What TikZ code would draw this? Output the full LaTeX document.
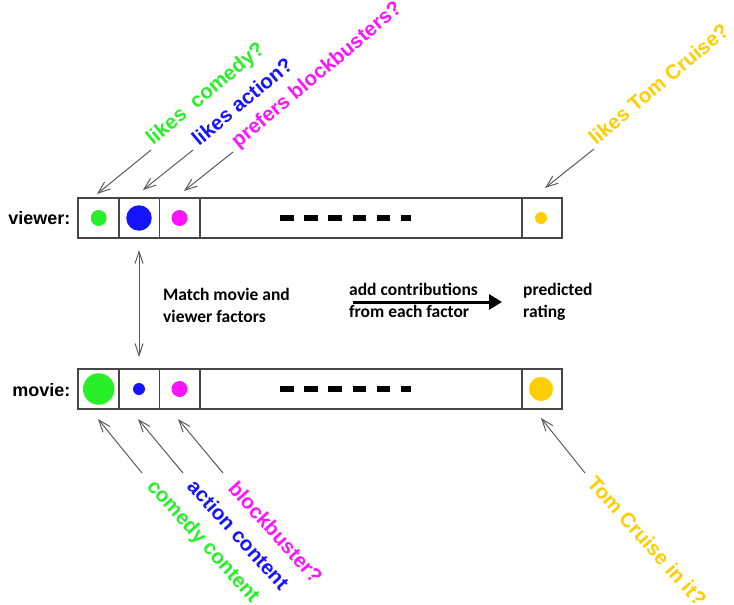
\documentclass[tikz,border=0pt]{standalone}
\usepackage{fontspec}
\usetikzlibrary{arrows.meta}
\newfontfamily\labfont{Liberation Sans}[BoldFont={Liberation Sans Bold}]
\newfontfamily\calfont{Carlito}[BoldFont={Carlito Bold}]
\definecolor{cgreen}{RGB}{40,240,40}
\definecolor{cblue}{RGB}{20,20,255}
\definecolor{cmag}{RGB}{255,20,255}
\definecolor{cgold}{RGB}{255,206,0}
\definecolor{cline}{RGB}{70,70,70}
\definecolor{cptr}{RGB}{90,90,90}
\tikzset{
  cell/.style={draw=cline, line width=1.2pt, minimum height=40, inner sep=0, rectangle},
  dot/.style={circle, inner sep=0, draw=none},
  lab/.style={inner sep=0, anchor=base west, font=\labfont\bfseries\fontsize{20.5}{24}\selectfont},
  blk/.style={inner sep=0, font=\calfont\bfseries\fontsize{17.5}{21}\selectfont},
  rowlab/.style={inner sep=0, anchor=base east, font=\labfont\bfseries\fontsize{18}{21}\selectfont},
  ptr/.style={draw=cptr, line width=1pt, -{Straight Barb[length=12pt,width=9pt]}},
  dptr/.style={draw=cptr, line width=1pt, {Straight Barb[length=12pt,width=8pt]}-{Straight Barb[length=12pt,width=8pt]}},
  dashrow/.style={line width=6pt, dash pattern=on 13.5pt off 10.7pt}
}
\begin{document}
\begin{tikzpicture}[x=1pt,y=-1pt]
\useasboundingbox (0,0) rectangle (734,605);
% viewer row
\node[cell, minimum width=41] (v1) at (98.5,218) {};
\node[cell, minimum width=40.5] (v2) at (139.25,218) {};
\node[cell, minimum width=40.5] (v3) at (179.75,218) {};
\node[cell, minimum width=322] (vm) at (361,218) {};
\node[cell, minimum width=40] (v4) at (542,218) {};
% movie row
\node[cell, minimum width=41] (m1) at (98.5,389) {};
\node[cell, minimum width=40.5] (m2) at (139.25,389) {};
\node[cell, minimum width=40.5] (m3) at (179.75,389) {};
\node[cell, minimum width=322] (mm) at (361,389) {};
\node[cell, minimum width=40] (m4) at (542,389) {};
% dots
\node[dot, fill=cgreen, minimum size=16] (dv1) at (98.7,218) {};
\node[dot, fill=cblue, minimum size=25.5] (dv2) at (139,218) {};
\node[dot, fill=cmag, minimum size=16] (dv3) at (179.5,218) {};
\node[dot, fill=cgold, minimum size=12] (dv4) at (541,218) {};
\node[dot, fill=cgreen, minimum size=31.5] (dm1) at (98.7,389) {};
\node[dot, fill=cblue, minimum size=12] (dm2) at (139,389) {};
\node[dot, fill=cmag, minimum size=16] (dm3) at (179.5,389) {};
\node[dot, fill=cgold, minimum size=24] (dm4) at (541,389) {};
% dashes
\draw[dashrow] (280,218) -- (411,218);
\draw[dashrow] (280,389) -- (411,389);
% row labels
\node[rowlab] (vl) at (70.5,224.5) {viewer:};
\node[rowlab] (ml) at (70.5,396) {movie:};
% middle texts
\node[blk, anchor=base west] (t1a) at (163,300) {Match movie and};
\node[blk, anchor=base west] (t1b) at (163,322.5) {viewer factors};
\node[blk, anchor=base west] (t2a) at (349,295) {add contributions};
\node[blk, anchor=base west] (t2b) at (349,317.5) {from each factor};
\node[blk, anchor=base west] (t3a) at (523,295) {predicted};
\node[blk, anchor=base west] (t3b) at (523,317.5) {rating};
\coordinate (sa) at (353,302);
\coordinate (sb) at (502,302);
\draw[line width=3pt, -{Triangle[length=13pt,width=15pt]}] (sa) -- (sb);
% double arrow
\coordinate (da) at (139,250);
\coordinate (db) at (139,357);
\draw[dptr] (da) -- (db);
% top labels
\node[lab, rotate=40, text=cgreen] (l1) at (153,146) {likes\hspace{0.55em}comedy?};
\node[lab, rotate=40, text=cblue] (l2) at (199,147) {likes action?};
\node[lab, rotate=40, text=cmag] (l3) at (238,149) {prefers blockbusters?};
\node[lab, rotate=40, text=cgold] (l4) at (596,146) {likes Tom Cruise?};
\coordinate (a1) at (151,150); \coordinate (h1) at (97,194);
\coordinate (a2) at (193,150); \coordinate (h2) at (143,190);
\coordinate (a3) at (233,152); \coordinate (h3) at (184,191);
\coordinate (a4) at (594,149); \coordinate (h4) at (545,188);
\draw[ptr] (a1) -- (h1);
\draw[ptr] (a2) -- (h2);
\draw[ptr] (a3) -- (h3);
\draw[ptr] (a4) -- (h4);
% bottom labels
\node[lab, rotate=-48, text=cgreen] (b1) at (146,487) {comedy content};
\node[lab, rotate=-48, text=cblue] (b2) at (186,487) {action content};
\node[lab, rotate=-48, text=cmag] (b3) at (227,489) {blockbuster?};
\node[lab, rotate=-48, text=cgold] (b4) at (586,484) {Tom Cruise in it?};
\coordinate (c1) at (142,473); \coordinate (k1) at (98,419);
\coordinate (c2) at (183,473); \coordinate (k2) at (138,419);
\coordinate (c3) at (223,473); \coordinate (k3) at (178,419);
\coordinate (c4) at (585,473); \coordinate (k4) at (541,418);
\draw[ptr] (c1) -- (k1);
\draw[ptr] (c2) -- (k2);
\draw[ptr] (c3) -- (k3);
\draw[ptr] (c4) -- (k4);
\end{tikzpicture}
\end{document}
